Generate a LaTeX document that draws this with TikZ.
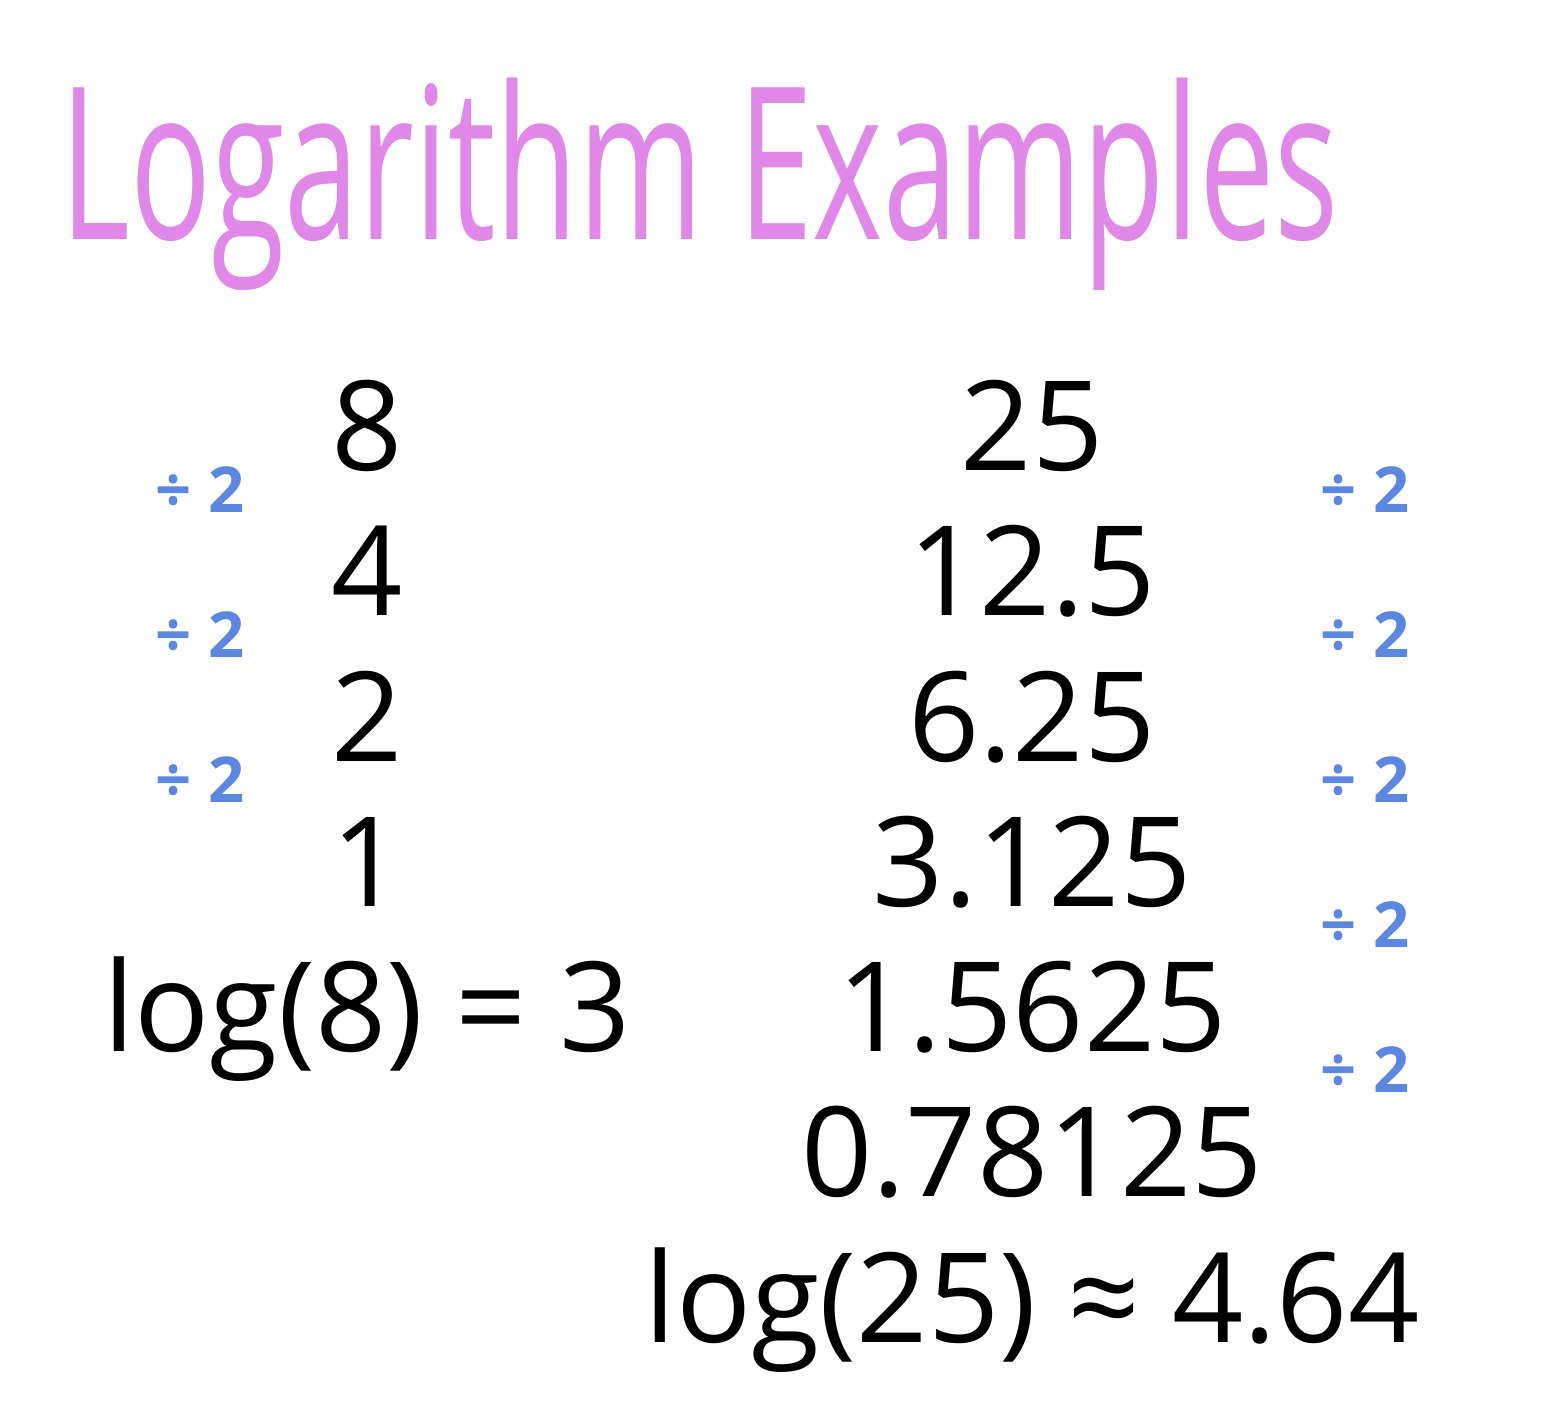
\documentclass[tikz,border=0pt]{standalone}
\usepackage{fontspec}
\setmainfont{Open Sans}
\newfontfamily\titlefont[FakeStretch=0.632]{Open Sans}
\definecolor{titlepink}{RGB}{224,136,232}
\definecolor{halfblue}{RGB}{91,135,224}
\tikzset{
  titlelabel/.style={anchor=base west,inner sep=0pt,text=titlepink,font=\titlefont\fontsize{121}{121}\selectfont},
  numlabel/.style={anchor=base,inner sep=0pt,font=\fontsize{71}{71}\selectfont},
  halflabel/.style={anchor=base,inner sep=0pt,text=halfblue,font=\bfseries\fontsize{36}{36}\selectfont}
}
\begin{document}
\begin{tikzpicture}[x=0.02cm,y=-0.02cm]
\useasboundingbox (0,0) rectangle (1566,1402);
\node[titlelabel] (title) at (60,240) {Logarithm Examples};

% left column: 8 halved down to 1
\node[numlabel] (l8) at (367,470) {8};
\node[numlabel] (l4) at (367,615) {4};
\node[numlabel] (l2) at (367,761) {2};
\node[numlabel] (l1) at (367,906) {1};
\node[numlabel] (llog) at (367,1051) {log(8) = 3};

\node[halflabel] (lh1) at (200,512) {÷ 2};
\node[halflabel] (lh2) at (200,657) {÷ 2};
\node[halflabel] (lh3) at (200,802) {÷ 2};

% right column: 25 halved down below 1
\node[numlabel] (r25) at (1032,470) {25};
\node[numlabel] (r12) at (1032,615) {12.5};
\node[numlabel] (r6) at (1032,761) {6.25};
\node[numlabel] (r3) at (1032,906) {3.125};
\node[numlabel] (r1) at (1032,1051) {1.5625};
\node[numlabel] (r0) at (1032,1196) {0.78125};
\node[numlabel] (rlog) at (1032,1342) {log(25) ≈ 4.64};

\node[halflabel] (rh1) at (1365,512) {÷ 2};
\node[halflabel] (rh2) at (1365,657) {÷ 2};
\node[halflabel] (rh3) at (1365,802) {÷ 2};
\node[halflabel] (rh4) at (1365,947) {÷ 2};
\node[halflabel] (rh5) at (1365,1092) {÷ 2};
\end{tikzpicture}
\end{document}
